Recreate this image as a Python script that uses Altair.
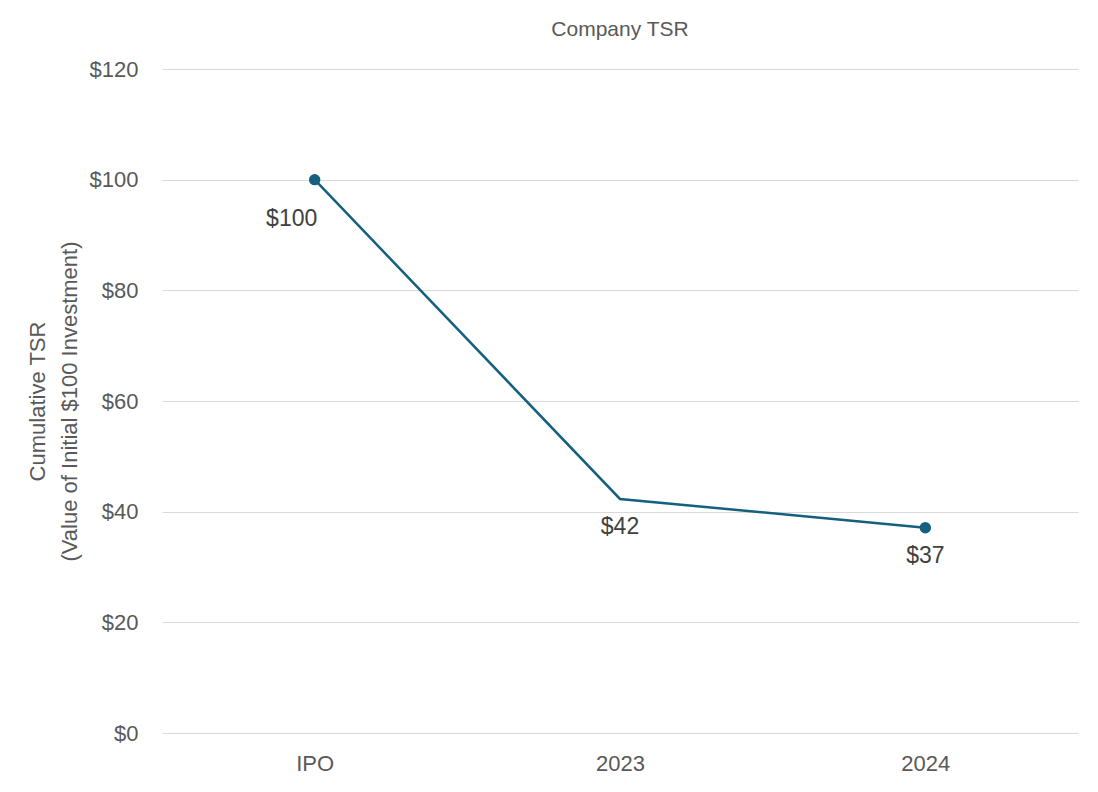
import altair as alt
import pandas as pd

categories = ["IPO", "2023", "2024"]
values = [100, 42.3, 37.1]
labels = ["$100", "$42", "$37"]
markers = [True, False, True]

df = pd.DataFrame({"cat": categories, "val": values, "lab": labels, "marker": markers})

LINE = "#155f7f"
FONT = "Liberation Sans"

x = alt.X("cat:N", sort=categories, scale=alt.Scale(type="point", padding=0.5),
          axis=alt.Axis(title=None, labelAngle=0, labelFontSize=22, labelColor="#595959",
                        labelFont=FONT, domain=False, ticks=False, labelPadding=20, grid=False))
y = alt.Y("val:Q", scale=alt.Scale(domain=[0, 120]),
          axis=alt.Axis(title=["Cumulative TSR", "(Value of Initial $100 Investment)"],
                        titleFontSize=22, titleColor="#595959", titleFont=FONT,
                        titleFontWeight="normal", titlePadding=8, titleLineHeight=32,
                        values=[0, 20, 40, 60, 80, 100, 120], labelExpr="'$' + datum.value",
                        labelFontSize=22, labelColor="#595959", labelFont=FONT,
                        domain=False, ticks=False, labelPadding=24,
                        gridColor="#d9d9d9", gridWidth=1))

base = alt.Chart(df)
line = base.mark_line(color=LINE, strokeWidth=2.5).encode(x=x, y=y)
pts = base.transform_filter("datum.marker").mark_point(
    filled=True, color=LINE, size=130, opacity=1).encode(x=x, y=y)
lab_first = base.transform_filter("datum.cat == 'IPO'").mark_text(
    fontSize=23, color="#404040", font=FONT, dx=-23, dy=39).encode(x=x, y=y, text="lab:N")
lab_rest = base.transform_filter("datum.cat != 'IPO'").mark_text(
    fontSize=23, color="#404040", font=FONT, dy=28).encode(x=x, y=y, text="lab:N")

chart = alt.layer(line, pts, lab_first, lab_rest).properties(
    width=916, height=664,
    title=alt.TitleParams("Company TSR", fontSize=21, color="#595959", font=FONT,
                          fontWeight="normal", anchor="middle", offset=18),
    autosize=alt.AutoSizeParams(type="none"),
    padding={"left": 154, "top": 61, "right": 12, "bottom": 51},
    view=alt.ViewBackground(stroke="transparent", strokeWidth=0),
).configure_view(stroke="transparent", strokeWidth=0).configure(background="white")

chart.save("out.html", embed_options={"renderer": "svg", "actions": False})
